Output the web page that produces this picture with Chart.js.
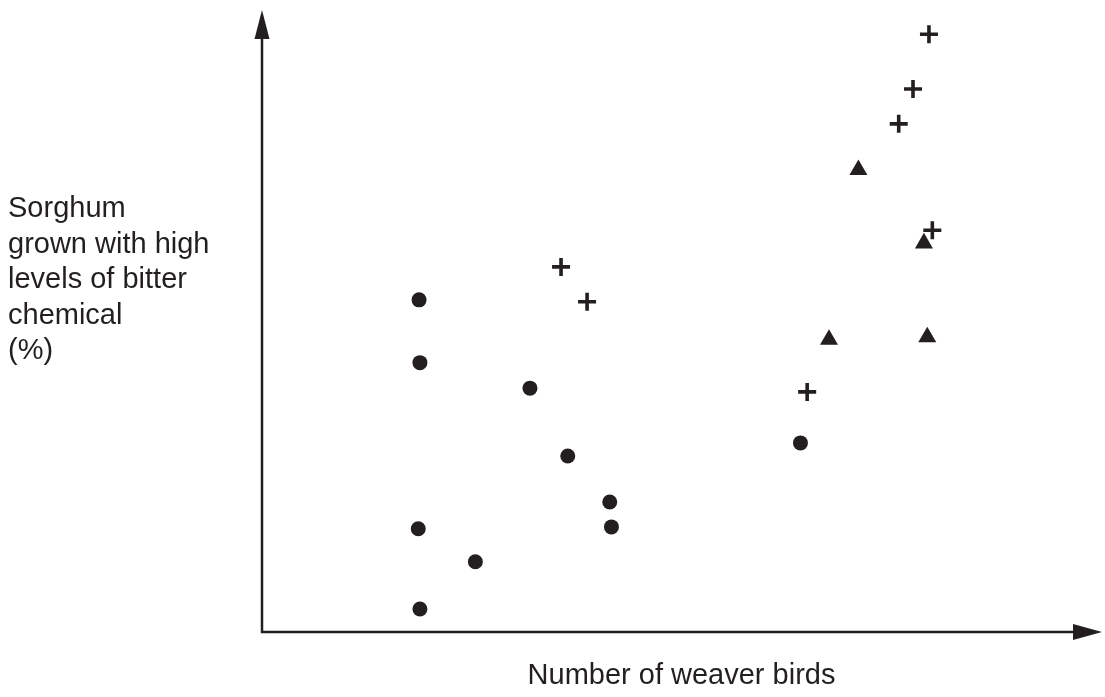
<!DOCTYPE html>
<html>
<head>
<meta charset="utf-8">
<script src="https://cdn.jsdelivr.net/npm/chart.js@4"></script>
<style>
  body { margin: 0; background: #fff; }
  #wrap { position: relative; width: 1105px; height: 697px; overflow: hidden; }
  .lbl { position: absolute; font-family: "Liberation Sans", Arial, sans-serif; font-size: 29px; line-height: 35.5px; color: #231f20; white-space: nowrap; }
  #ylab { left: 8px; top: 190px; }
  #xlab { left: 681.5px; top: 657px; transform: translateX(-50%); }
</style>
</head>
<body>
<div id="wrap">
  <canvas id="myChart" width="1105" height="697"></canvas>
  <div class="lbl" id="ylab">Sorghum<br>grown with high<br>levels of bitter<br>chemical<br>(%)</div>
  <div class="lbl" id="xlab">Number of weaver birds</div>
</div>
<script>
// values, axes have no units (0-100 across each axis)
const circleX = [18.7, 18.8, 31.9, 36.4, 41.4, 41.6, 18.6, 25.4, 18.8, 64.1];
const circleY = [53.4, 43.3, 39.2, 28.3, 20.9, 16.9, 16.6, 11.3, 3.7, 30.4];

const crossX = [35.6, 38.7, 64.9, 79.4, 77.5, 75.8, 79.8];
const crossY = [58.7, 53.1, 38.6, 96.1, 87.3, 81.7, 64.6];

const triangleX = [71.0, 78.8, 67.5, 79.2];
const triangleY = [74.3, 62.5, 47.0, 47.4];

const ink = '#231f20';

function toPoints(xs, ys) {
    return xs.map((x, i) => ({ x: x, y: ys[i] }));
}

// axis lines with arrow heads
const axisArrows = {
    id: 'axisArrows',
    beforeDatasetsDraw(chart) {
        const a = chart.chartArea;
        const ctx = chart.ctx;
        ctx.save();
        ctx.strokeStyle = ink;
        ctx.fillStyle = ink;
        ctx.lineWidth = 2.5;
        ctx.beginPath();
        ctx.moveTo(a.left, a.top + 25);
        ctx.lineTo(a.left, a.bottom);
        ctx.lineTo(a.right - 25, a.bottom);
        ctx.stroke();

        ctx.beginPath();
        ctx.moveTo(a.left, a.top);
        ctx.lineTo(a.left - 7.5, a.top + 29);
        ctx.lineTo(a.left + 7.5, a.top + 29);
        ctx.closePath();
        ctx.fill();

        ctx.beginPath();
        ctx.moveTo(a.right, a.bottom);
        ctx.lineTo(a.right - 29, a.bottom - 8);
        ctx.lineTo(a.right - 29, a.bottom + 8);
        ctx.closePath();
        ctx.fill();
        ctx.restore();
    }
};

const ctx = document.getElementById('myChart').getContext('2d');
const myChart = new Chart(ctx, {
    type: 'scatter',
    data: {
        datasets: [{
            label: 'circle',
            data: toPoints(circleX, circleY),
            pointStyle: 'circle',
            pointRadius: 7.5,
            borderWidth: 0,
            backgroundColor: ink
        }, {
            label: 'cross',
            data: toPoints(crossX, crossY),
            pointStyle: 'cross',
            pointRadius: 9,
            borderWidth: 3.6,
            borderColor: ink
        }, {
            label: 'triangle',
            data: toPoints(triangleX, triangleY),
            pointStyle: 'triangle',
            pointRadius: 10.4,
            borderWidth: 0,
            backgroundColor: ink
        }]
    },
    options: {
        responsive: false,
        animation: false,
        layout: { autoPadding: false, padding: { left: 262, right: 3, top: 10, bottom: 65 } },
        scales: {
            x: { type: 'linear', min: 0, max: 100, display: false },
            y: { type: 'linear', min: 0, max: 100, display: false }
        },
        plugins: {
            legend: { display: false },
            tooltip: { enabled: false }
        }
    },
    plugins: [axisArrows]
});
</script>
</body>
</html>
